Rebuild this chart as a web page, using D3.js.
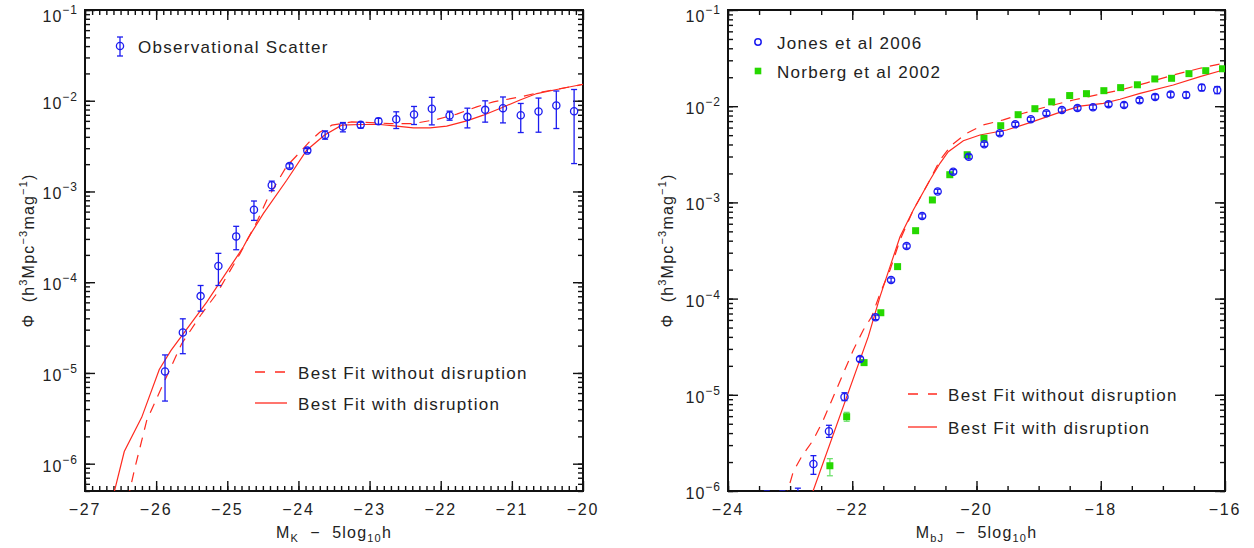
<!DOCTYPE html>
<html>
<head>
<meta charset="utf-8">
<script src="https://cdn.jsdelivr.net/npm/d3@7"></script>
<style>
body { margin: 0; background: #fff; }
text { font-family: "Liberation Sans", Arial, sans-serif; fill: #222; white-space: pre; }
</style>
</head>
<body>
<svg id="chart" width="1254" height="548"></svg>
<script>
'use strict';

// ---- K band panel (left) ----
var kMag = [-25.875, -25.625, -25.375, -25.125, -24.875, -24.625, -24.375, -24.125, -23.875, -23.625, -23.375, -23.125,
        -22.875, -22.625, -22.375, -22.125, -21.875, -21.625, -21.375, -21.125, -20.875, -20.625, -20.375, -20.125];
var kPhi = [1.04e-5, 2.79e-5, 7.03e-5, 1.51e-4, 3.2e-4, 6.3e-4, 1.17e-3, 1.91e-3, 2.82e-3, 4.2e-3, 5.2e-3, 5.42e-3,
        5.96e-3, 6.26e-3, 7.06e-3, 8.15e-3, 6.89e-3, 6.64e-3, 7.94e-3, 8.28e-3, 6.93e-3, 7.62e-3, 8.87e-3, 7.67e-3];
var kLo = [4.9e-6, 1.63e-5, 4.8e-5, 9.2e-5, 2.28e-4, 4.8e-4, 1.02e-3, 1.81e-3, 2.68e-3, 3.77e-3, 4.54e-3, 5.0e-3,
        5.5e-3, 4.94e-3, 5.47e-3, 5.42e-3, 6.1e-3, 5.02e-3, 5.81e-3, 5.7e-3, 4.46e-3, 4.5e-3, 4.94e-3, 2.03e-3];
var kHi = [1.58e-5, 3.95e-5, 9.2e-5, 2.08e-4, 4.13e-4, 7.85e-4, 1.3e-3, 2.02e-3, 2.97e-3, 4.65e-3, 5.75e-3, 5.8e-3,
        6.4e-3, 7.55e-3, 8.65e-3, 1.09e-2, 7.67e-3, 8.28e-3, 9.98e-3, 1.1e-2, 9.33e-3, 1.07e-2, 1.28e-2, 1.33e-2];

var kFitDisMag = [-26.62, -26.448, -26.203, -25.956, -25.791, -25.289, -24.775, -24.704, -24.494, -24.165, -23.884, -23.636,
        -23.392, -23.134, -22.853, -22.619, -22.385, -22.15, -21.916, -21.635, -21.401, -21.134, -20.885, -20.65, -20.369, -20.0];
var kFitDisPhi = [3.9e-7, 1.36e-6, 3.24e-6, 1.09e-5, 1.77e-5, 6.03e-5, 2.44e-4, 3.1e-4, 5.7e-4, 1.33e-3, 2.85e-3, 4.17e-3,
        5.38e-3, 5.47e-3, 5.47e-3, 5.24e-3, 5.02e-3, 5.02e-3, 5.24e-3, 6.0e-3, 6.93e-3, 8.43e-3, 1.02e-2, 1.2e-2, 1.33e-2, 1.52e-2];
var kFitNoDisMag = [-26.40, -26.297, -26.133, -25.9, -25.641, -25.36, -25.149, -24.986, -24.821, -24.586, -24.446, -24.283,
        -24.165, -24.0, -23.85, -23.7, -23.53, -23.251, -22.994, -22.713, -22.385, -22.056, -21.775, -21.494, -21.26, -20.885, -20.604, -20.0];
var kFitNoDisPhi = [4.0e-7, 9.1e-7, 2.98e-6, 7.6e-6, 2.1e-5, 4.49e-5, 7.46e-5, 1.24e-4, 2.06e-4, 4.6e-4, 8.0e-4, 1.33e-3,
        1.9e-3, 2.6e-3, 3.5e-3, 4.5e-3, 5.38e-3, 5.85e-3, 5.75e-3, 5.6e-3, 5.6e-3, 6.22e-3, 7.11e-3, 8.57e-3, 9.73e-3, 1.1e-2, 1.24e-2, 1.51e-2];

// ---- bJ band panel (right) ----
var jonesMag = [-23.375, -23.125, -22.875, -22.625, -22.375, -22.125, -21.875, -21.625, -21.375, -21.125, -20.875, -20.625,
        -20.375, -20.125, -19.875, -19.625, -19.375, -19.125, -18.875, -18.625, -18.375, -18.125, -17.875, -17.625,
        -17.375, -17.125, -16.875, -16.625, -16.375, -16.125];
var jonesPhi = [4e-7, 5e-7, 6e-7, 1.91e-6, 4.18e-6, 9.49e-6, 2.35e-5, 6.39e-5, 1.56e-4, 3.52e-4, 7.22e-4, 1.30e-3,
        2.08e-3, 2.99e-3, 4.02e-3, 5.23e-3, 6.48e-3, 7.31e-3, 8.44e-3, 9.12e-3, 9.57e-3, 9.74e-3, 1.05e-2, 1.03e-2,
        1.15e-2, 1.25e-2, 1.32e-2, 1.31e-2, 1.56e-2, 1.47e-2];
var jonesLo = [2e-7, 2.5e-7, 3e-7, 1.49e-6, 3.61e-6, 8.7e-6, 2.22e-5, 6.05e-5, 1.48e-4, 3.34e-4, 6.85e-4, 1.24e-3,
        1.97e-3, 2.84e-3, 3.82e-3, 4.97e-3, 6.15e-3, 6.94e-3, 8.0e-3, 8.65e-3, 9.08e-3, 9.22e-3, 9.95e-3, 9.75e-3,
        1.09e-2, 1.18e-2, 1.24e-2, 1.22e-2, 1.45e-2, 1.35e-2];
var jonesHi = [1.0e-6, 1.0e-6, 1.07e-6, 2.33e-6, 4.82e-6, 1.05e-5, 2.49e-5, 6.75e-5, 1.64e-4, 3.7e-4, 7.6e-4, 1.37e-3,
        2.19e-3, 3.14e-3, 4.22e-3, 5.49e-3, 6.8e-3, 7.68e-3, 8.88e-3, 9.6e-3, 1.01e-2, 1.03e-2, 1.11e-2, 1.09e-2,
        1.21e-2, 1.32e-2, 1.40e-2, 1.40e-2, 1.68e-2, 1.60e-2];

var norbergMag = [-22.36, -22.09, -21.81, -21.54, -21.27, -20.98, -20.71, -20.43, -20.15, -19.88, -19.61, -19.33,
        -19.06, -18.79, -18.50, -18.23, -17.95, -17.68, -17.41, -17.13, -16.86, -16.58, -16.31, -16.04];
var norbergPhi = [1.83e-6, 5.92e-6, 2.16e-5, 7.13e-5, 2.15e-4, 5.08e-4, 1.06e-3, 1.94e-3, 3.13e-3, 4.64e-3, 6.27e-3, 8.16e-3,
        9.42e-3, 1.11e-2, 1.29e-2, 1.35e-2, 1.45e-2, 1.56e-2, 1.67e-2, 1.92e-2, 1.95e-2, 2.18e-2, 2.34e-2, 2.45e-2];
var norbergLo = [1.44e-6, 5.31e-6, 2.1e-5, 6.95e-5, 2.1e-4, 4.96e-4, 1.04e-3, 1.9e-3, 3.07e-3, 4.55e-3, 6.15e-3, 8.0e-3,
        9.24e-3, 1.09e-2, 1.27e-2, 1.33e-2, 1.43e-2, 1.54e-2, 1.65e-2, 1.9e-2, 1.93e-2, 2.16e-2, 2.32e-2, 2.43e-2];
var norbergHi = [2.17e-6, 6.57e-6, 2.22e-5, 7.3e-5, 2.2e-4, 5.2e-4, 1.08e-3, 1.98e-3, 3.19e-3, 4.73e-3, 6.4e-3, 8.32e-3,
        9.6e-3, 1.13e-2, 1.31e-2, 1.37e-2, 1.47e-2, 1.58e-2, 1.69e-2, 1.94e-2, 1.97e-2, 2.2e-2, 2.36e-2, 2.47e-2];

var bFitDisMag = [-22.68, -21.742, -21.553, -21.392, -21.231, -21.017, -20.749, -20.588, -20.454, -20.212, -19.944, -19.514,
        -19.139, -18.709, -18.334, -17.959, -17.690, -17.368, -16.832, -16.402, -16.027, -16.0];
var bFitDisPhi = [8.15e-7, 4.02e-5, 1.05e-4, 2.15e-4, 4.4e-4, 8.33e-4, 1.71e-3, 2.55e-3, 3.37e-3, 4.37e-3, 5.02e-3, 5.66e-3,
        6.74e-3, 8.43e-3, 1.0e-2, 1.07e-2, 1.18e-2, 1.36e-2, 1.66e-2, 2.03e-2, 2.38e-2, 2.4e-2];
var bFitNoDisMag = [-23.083, -22.949, -22.814, -22.627, -22.466, -22.305, -22.144, -21.983, -21.822, -21.687, -21.553, -21.392,
        -21.231, -21.017, -20.749, -20.588, -20.399, -20.158, -19.891, -19.569, -19.247, -18.870, -18.442, -18.065, -17.690,
        -17.260, -16.832, -16.402, -16.027, -16.0];
var bFitNoDisPhi = [8e-7, 1.59e-6, 2.28e-6, 3.39e-6, 5.47e-6, 9.55e-6, 1.67e-5, 2.92e-5, 4.72e-5, 6.49e-5, 1.13e-4, 1.98e-4,
        4.07e-4, 8.33e-4, 1.71e-3, 2.76e-3, 3.95e-3, 5.23e-3, 6.38e-3, 7.2e-3, 8.44e-3, 9.88e-3, 1.16e-2, 1.31e-2, 1.47e-2,
        1.75e-2, 2.11e-2, 2.48e-2, 2.79e-2, 2.82e-2];

// ---- ticks ----
var kTickVals = [-27, -26, -25, -24, -23, -22, -21, -20];
var bTickVals = [-24, -22, -20, -18, -16];
var phiTickVals = [1e-6, 1e-5, 1e-4, 1e-3, 1e-2, 1e-1];

var RED = '#ff2a1f', BLUE = '#1c1cf0', GREEN = '#26d800', GREEN_ERR = '#6ee06e';

var svg = d3.select('#chart');
var fmtX = d3.format('d');

var drawErr = function(g, pts, color, cap) {
        var bars = g.selectAll(null).data(pts).enter().append('g').attr('stroke', color).attr('stroke-width', 1.3);
        bars.append('line').attr('x1', function(d) { return d.x; }).attr('x2', function(d) { return d.x; })
                .attr('y1', function(d) { return d.ylo; }).attr('y2', function(d) { return d.yhi; });
        bars.append('line').attr('x1', function(d) { return d.x - cap; }).attr('x2', function(d) { return d.x + cap; })
                .attr('y1', function(d) { return d.ylo; }).attr('y2', function(d) { return d.ylo; });
        bars.append('line').attr('x1', function(d) { return d.x - cap; }).attr('x2', function(d) { return d.x + cap; })
                .attr('y1', function(d) { return d.yhi; }).attr('y2', function(d) { return d.yhi; });
};

var drawPanel = function(p) {
        var x = d3.scaleLinear().domain(p.xDomain).range([p.left, p.right]);
        var y = d3.scaleLog().domain(p.yDomain).range([p.bottom, p.top]);
        var w = p.right - p.left, h = p.bottom - p.top;
        var g = svg.append('g');

        svg.append('clipPath').attr('id', 'clip' + p.id).append('rect')
                .attr('x', p.left).attr('y', p.top).attr('width', w).attr('height', h);

        // inward ticks on all four sides
        var yAll = y.ticks();
        var axes = [
                [d3.axisBottom(x), 'translate(0,' + p.bottom + ')'],
                [d3.axisTop(x), 'translate(0,' + p.top + ')']
        ];
        axes.forEach(function(a) {
                g.append('g').attr('transform', a[1]).call(a[0].tickValues(p.xMinor).tickSize(-p.xMinorLen).tickSizeOuter(0).tickFormat(''));
                g.append('g').attr('transform', a[1]).call(a[0].tickValues(p.xMajor).tickSize(-p.xMajorLen).tickSizeOuter(0).tickFormat(''));
        });
        [[d3.axisLeft(y), 'translate(' + p.left + ',0)'], [d3.axisRight(y), 'translate(' + p.right + ',0)']].forEach(function(a) {
                g.append('g').attr('transform', a[1]).call(a[0].tickValues(yAll).tickSize(-5).tickSizeOuter(0).tickFormat(''));
                g.append('g').attr('transform', a[1]).call(a[0].tickValues(phiTickVals).tickSize(-10).tickSizeOuter(0).tickFormat(''));
        });
        g.selectAll('.domain').remove();
        g.selectAll('.tick line').attr('stroke', '#111').attr('stroke-width', 1.4);
        g.append('rect').attr('x', p.left).attr('y', p.top).attr('width', w).attr('height', h)
                .attr('fill', 'none').attr('stroke', '#111').attr('stroke-width', 2);

        // x tick labels
        g.selectAll(null).data(p.xMajor).enter().append('text')
                .attr('x', function(d) { return x(d); }).attr('y', p.bottom + 24)
                .attr('text-anchor', 'middle').style('font-size', '16px').style('letter-spacing', '1.8px')
                .text(function(d) { return fmtX(d); });

        // y tick labels 10^n
        var yl = g.selectAll(null).data(phiTickVals).enter().append('text')
                .attr('x', p.left - 7).attr('y', function(d) { return y(d) + (d === 1e-1 ? 12 : 8); })
                .attr('text-anchor', 'end').style('font-size', '16px').style('letter-spacing', '1px');
        yl.append('tspan').text('10');
        yl.append('tspan').attr('dy', -8).style('font-size', '12px').text(function(d) {
                return '\u2212' + Math.round(-Math.log10(d));
        });

        // axis titles
        var xt = g.append('text').attr('x', (p.left + p.right) / 2).attr('y', 538)
                .attr('text-anchor', 'middle').style('font-size', '16px').style('letter-spacing', '1.2px');
        xt.append('tspan').text('M');
        xt.append('tspan').attr('dy', 4).style('font-size', '11px').text(p.band);
        xt.append('tspan').attr('dy', -4).text('  \u2212  5log');
        xt.append('tspan').attr('dy', 4).style('font-size', '11px').text('10');
        xt.append('tspan').attr('dy', -4).text('h');

        var yt = g.append('text').attr('transform', 'translate(' + (p.left - p.yTitleOff) + ',' + ((p.top + p.bottom) / 2) + ') rotate(-90)')
                .attr('text-anchor', 'middle').style('font-size', '16px').style('letter-spacing', '1.2px');
        yt.append('tspan').text('\u03a6  (h');
        yt.append('tspan').attr('dy', -7).style('font-size', '11px').text('3');
        yt.append('tspan').attr('dy', 7).text('Mpc');
        yt.append('tspan').attr('dy', -7).style('font-size', '11px').text('\u22123');
        yt.append('tspan').attr('dy', 7).text('mag');
        yt.append('tspan').attr('dy', -7).style('font-size', '11px').text('\u22121');
        yt.append('tspan').attr('dy', 7).text(')');

        // data
        var plot = g.append('g').attr('clip-path', 'url(#clip' + p.id + ')');
        var line = d3.line().x(function(d) { return x(d[0]); }).y(function(d) { return y(d[1]); });
        plot.append('path').datum(d3.zip(p.noDisMag, p.noDisPhi)).attr('d', line)
                .attr('fill', 'none').attr('stroke', RED).attr('stroke-width', 1.2).attr('stroke-dasharray', '10,8');
        plot.append('path').datum(d3.zip(p.disMag, p.disPhi)).attr('d', line)
                .attr('fill', 'none').attr('stroke', RED).attr('stroke-width', 1.2);

        p.sets.forEach(function(s) {
                var pts = s.mag.map(function(m, i) {
                        return { x: x(m), y: y(s.phi[i]), ylo: y(s.lo[i]), yhi: y(s.hi[i]) };
                });
                drawErr(plot, pts, s.errColor, 3);
                if (s.shape === 'square') {
                        plot.selectAll(null).data(pts).enter().append('rect')
                                .attr('x', function(d) { return d.x - 3.5; }).attr('y', function(d) { return d.y - 3.5; })
                                .attr('width', 7).attr('height', 7).attr('fill', s.color);
                } else {
                        plot.selectAll(null).data(pts).enter().append('circle')
                                .attr('cx', function(d) { return d.x; }).attr('cy', function(d) { return d.y; }).attr('r', 3.6)
                                .attr('fill', 'none').attr('stroke', s.color).attr('stroke-width', 1.3);
                }
        });

        // legends
        var lg = g.append('g').style('font-size', '17px').style('letter-spacing', '1.3px');
        p.legendTop.forEach(function(l) {
                if (l.shape === 'errcircle') {
                        drawErr(lg, [{ x: l.sx, ylo: l.sy + 10, yhi: l.sy - 9 }], BLUE, 3);
                        lg.append('circle').attr('cx', l.sx).attr('cy', l.sy).attr('r', 3.6)
                                .attr('fill', 'none').attr('stroke', BLUE).attr('stroke-width', 1.3);
                } else if (l.shape === 'circle') {
                        lg.append('circle').attr('cx', l.sx).attr('cy', l.sy).attr('r', 3.2)
                                .attr('fill', 'none').attr('stroke', BLUE).attr('stroke-width', 1.5);
                } else {
                        lg.append('rect').attr('x', l.sx - 3.3).attr('y', l.sy - 3.3).attr('width', 6.6).attr('height', 6.6)
                                .attr('fill', GREEN);
                }
                lg.append('text').attr('x', l.tx).attr('y', l.sy + 7).text(l.label);
        });
        p.legendBottom.forEach(function(l) {
                lg.append('line').attr('x1', l.x1).attr('x2', l.x2).attr('y1', l.y).attr('y2', l.y)
                        .attr('stroke', RED).attr('stroke-width', 1.3).attr('stroke-dasharray', l.dash ? '10,10' : null);
                lg.append('text').attr('x', l.x2 + 11).attr('y', l.y + 6.5).text(l.label);
        });
};

drawPanel({
        id: 'K', band: 'K', left: 85, right: 583, top: 10, bottom: 491,
        xDomain: [-27, -20], yDomain: [5e-7, 1e-1], yTitleOff: 51,
        xMajor: kTickVals, xMinor: d3.range(-27, -20, 0.1), xMajorLen: 10, xMinorLen: 5,
        disMag: kFitDisMag, disPhi: kFitDisPhi, noDisMag: kFitNoDisMag, noDisPhi: kFitNoDisPhi,
        sets: [{ mag: kMag, phi: kPhi, lo: kLo, hi: kHi, color: BLUE, errColor: BLUE, shape: 'circle' }],
        legendTop: [{ shape: 'errcircle', sx: 120, sy: 46, tx: 138, label: 'Observational Scatter' }],
        legendBottom: [
                { x1: 255, x2: 287, y: 372, dash: true, label: 'Best Fit without disruption' },
                { x1: 255, x2: 287, y: 403, dash: false, label: 'Best Fit with disruption' }
        ]
});

drawPanel({
        id: 'B', band: 'bJ', left: 728, right: 1225, top: 10, bottom: 491,
        xDomain: [-24, -16], yDomain: [1e-6, 1e-1], yTitleOff: 55,
        xMajor: bTickVals, xMinor: d3.range(-24, -16, 0.5), xMajorLen: 10, xMinorLen: 5,
        disMag: bFitDisMag, disPhi: bFitDisPhi, noDisMag: bFitNoDisMag, noDisPhi: bFitNoDisPhi,
        sets: [
                { mag: norbergMag, phi: norbergPhi, lo: norbergLo, hi: norbergHi, color: GREEN, errColor: GREEN_ERR, shape: 'square' },
                { mag: jonesMag, phi: jonesPhi, lo: jonesLo, hi: jonesHi, color: BLUE, errColor: BLUE, shape: 'circle' }
        ],
        legendTop: [
                { shape: 'circle', sx: 758, sy: 42, tx: 777, label: 'Jones et al 2006' },
                { shape: 'square', sx: 758, sy: 71, tx: 777, label: 'Norberg et al 2002' }
        ],
        legendBottom: [
                { x1: 908, x2: 937, y: 394, dash: true, label: 'Best Fit without disruption' },
                { x1: 908, x2: 937, y: 427, dash: false, label: 'Best Fit with disruption' }
        ]
});
</script>
</body>
</html>
